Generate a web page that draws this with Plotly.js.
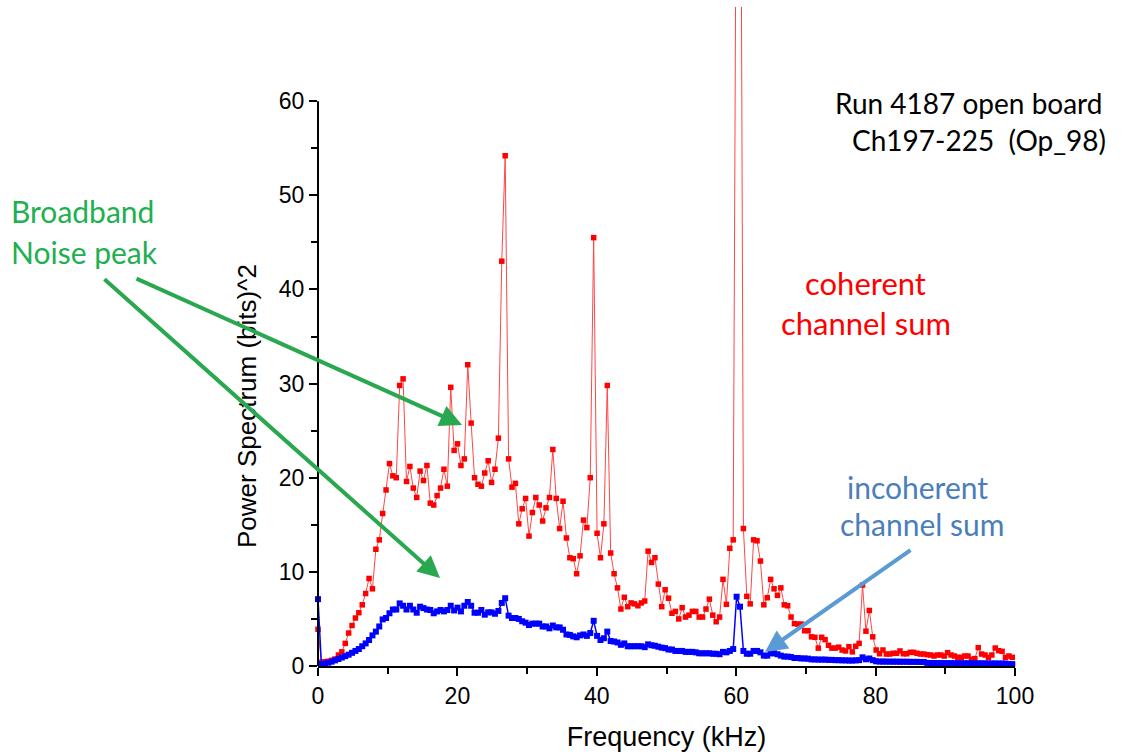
<!DOCTYPE html>
<html>
<head>
<meta charset="utf-8">
<script src="https://cdn.plot.ly/plotly-3.0.1.min.js"></script>
<style>html,body{margin:0;padding:0;background:#fff;}#chart{width:1138px;height:756px;}</style>
</head>
<body>
<div id="chart"></div>
<script>
// FFT bin width (kHz) of the spectrum
const BIN_KHZ = 0.48828;

// coherent channel sum, one value per frequency bin (bits)^2
const coherentSum = [
  3.9, 0.4, 0.45, 0.5, 0.6, 0.74, 1.17, 1.5, 2.4, 3.5,
  4.3, 5.1, 5.66, 6.5, 7.7, 9.3, 8.2, 12.4, 13.4, 16.2,
  18.7, 21.5, 20.2, 20.0, 29.8, 30.5, 19.6, 21.2, 18.9, 17.9,
  20.7, 19.7, 21.3, 17.3, 17.1, 18.1, 18.9, 20.9, 19.1, 29.6,
  22.9, 23.6, 21.3, 22.0, 32.0, 25.8, 20.0, 19.3, 19.1, 20.5,
  21.8, 19.5, 20.9, 24.2, 43.0, 54.2, 22.0, 19.0, 19.4, 15.1,
  16.7, 17.8, 13.8, 16.3, 17.9, 17.1, 15.4, 16.8, 17.9, 23.0,
  17.8, 14.6, 17.5, 13.6, 11.5, 11.4, 9.8, 11.7, 15.5, 14.7,
  20.0, 45.5, 14.1, 11.5, 15.1, 29.8, 12.0, 9.8, 8.3, 6.05,
  7.3, 6.3, 6.7, 6.6, 6.4, 6.7, 6.9, 12.2, 11.0, 11.5,
  8.7, 6.3, 8.1, 7.2, 5.6, 5.8, 5.0, 6.2, 5.2, 5.4,
  5.8, 5.8, 5.2, 5.2, 6.05, 7.1, 5.4, 4.7, 5.2, 9.2,
  6.55, 12.5, 13.4, 96, 112, 14.6, 7.4, 6.6, 13.4, 13.3,
  11.15, 6.5, 7.25, 9.2, 8.2, 7.5, 8.3, 6.5, 6.4, 5.2,
  4.5, 4.45, 4.45, 3.75, 3.75, 3.1, 3.05, 1.9, 3.05, 2.8,
  2.2, 1.9, 1.9, 2.0, 1.7, 1.6, 2.05, 1.5, 2.1, 2.4,
  8.6, 3.7, 5.9, 3.1, 1.7, 1.3, 1.7, 1.27, 1.27, 1.35,
  1.35, 1.6, 1.3, 1.3, 1.45, 1.45, 1.35, 1.27, 1.27, 1.2,
  1.17, 1.06, 1.17, 1.17, 1.06, 1.42, 1.17, 1.06, 0.92, 0.92,
  1.06, 1.06, 0.71, 0.78, 1.95, 1.27, 1.17, 0.92, 1.17, 1.91,
  1.63, 1.56, 0.92, 1.06, 0.92, 0.92
];

// incoherent channel sum, one value per frequency bin (bits)^2
const incoherentSum = [
  7.1, 0.2, 0.25, 0.35, 0.46, 0.6, 0.74, 0.9, 1.05, 1.2,
  1.4, 1.6, 1.8, 2.1, 2.4, 2.76, 3.25, 3.65, 4.2, 4.95,
  5.1, 5.6, 6.0, 6.0, 6.65, 6.4, 6.0, 6.4, 6.0, 5.66,
  6.3, 6.15, 6.0, 5.95, 5.6, 5.8, 5.95, 5.8, 5.95, 6.4,
  5.9, 6.2, 5.8, 6.4, 6.8, 6.4, 5.66, 5.66, 5.95, 5.45,
  5.7, 5.7, 5.55, 5.85, 6.7, 7.2, 5.35, 5.1, 5.1, 5.0,
  4.75, 4.6, 4.35, 4.5, 4.5, 4.5, 4.2, 4.2, 4.0, 4.3,
  4.1, 4.1, 3.85, 3.35, 3.3, 3.15, 3.05, 3.25, 3.35, 3.2,
  3.5, 4.8, 3.2, 2.76, 2.95, 3.65, 2.65, 2.6, 2.5, 2.25,
  2.4, 2.1, 2.1, 2.1, 2.1, 2.1, 2.0, 2.3, 2.2, 2.15,
  2.05, 1.95, 1.9, 1.75, 1.75, 1.6, 1.6, 1.6, 1.5, 1.5,
  1.5, 1.45, 1.35, 1.35, 1.35, 1.35, 1.3, 1.3, 1.25, 1.5,
  1.45, 1.6, 1.8, 7.36, 6.3, 1.6, 1.3, 1.3, 1.6, 1.6,
  1.45, 1.1, 1.1, 1.35, 1.35, 1.25, 1.1, 1.0, 1.0, 0.95,
  0.85, 0.85, 0.8, 0.8, 0.78, 0.7, 0.7, 0.68, 0.68, 0.68,
  0.65, 0.65, 0.62, 0.62, 0.6, 0.6, 0.58, 0.58, 0.6, 0.62,
  0.92, 0.71, 0.8, 0.62, 0.5, 0.47, 0.47, 0.47, 0.46, 0.46,
  0.46, 0.45, 0.45, 0.45, 0.44, 0.44, 0.44, 0.43, 0.43, 0.33,
  0.32, 0.32, 0.31, 0.31, 0.31, 0.3, 0.3, 0.3, 0.3, 0.29,
  0.29, 0.29, 0.29, 0.28, 0.28, 0.28, 0.28, 0.27, 0.27, 0.27,
  0.26, 0.26, 0.26, 0.2, 0.2, 0.2
];

const xTickVals = [0, 20, 40, 60, 80, 100];
const xMinorTickVals = [10, 30, 50, 70, 90];
const yTickVals = [0, 10, 20, 30, 40, 50, 60];
const yMinorTickVals = [5, 15, 25, 35, 45, 55];

const yAxisTitle = 'Power Spectrum (bits)^2';
const xAxisTitle = 'Frequency (kHz)';
const titleLines = ["Run 4187 open board", "Ch197-225\u00a0\u00a0(Op_98)"];
const coherentLabel = ["coherent", "channel sum"];
const incoherentLabel = ["incoherent", "channel sum"];
const noiseLabel = ["Broadband", "Noise peak"];

const freqCoh = coherentSum.map((_, i) => i * BIN_KHZ);
const freqInc = incoherentSum.map((_, i) => i * BIN_KHZ);

const traces = [
  {
    x: freqCoh, y: coherentSum, type: 'scatter', mode: 'lines+markers',
    name: 'coherent channel sum', cliponaxis: false,
    line: {color: 'rgb(255,70,70)', width: 1},
    marker: {symbol: 'square', size: 5.5, color: 'rgb(255,0,0)'}
  },
  {
    x: freqInc, y: incoherentSum, type: 'scatter', mode: 'lines+markers',
    name: 'incoherent channel sum', cliponaxis: false,
    line: {color: 'rgb(0,0,255)', width: 1.5},
    marker: {symbol: 'square', size: 6, color: 'rgb(0,0,255)'}
  }
];

const TXT = 'Lato, "Open Sans", sans-serif';
const AX = '"Liberation Sans", Arial, sans-serif';

function txt(text, x, y, color, size, xanchor) {
  return {text: text, xref: 'paper', yref: 'paper', x: x, y: y,
    xanchor: xanchor || 'center', yanchor: 'middle', showarrow: false,
    font: {family: TXT, size: size, color: color}};
}
function arrow(x, y, ax, ay, color) {
  return {text: '', xref: 'paper', yref: 'paper', x: x, y: y, ax: ax, ay: ay,
    showarrow: true, arrowhead: 2, arrowsize: 1.1, arrowwidth: 4,
    arrowcolor: color, standoff: 0, startstandoff: 0};
}

const layout = {
  width: 1138, height: 756,
  margin: {l: 318, r: 123, t: 7, b: 90},
  paper_bgcolor: '#ffffff', plot_bgcolor: '#ffffff',
  showlegend: false,
  xaxis: {
    range: [0, 100], tickvals: xTickVals, ticks: 'outside', ticklen: 8, tickwidth: 2,
    tickcolor: '#000', showline: true, linewidth: 2, linecolor: '#000',
    showgrid: false, zeroline: false,
    minor: {tickvals: xMinorTickVals, ticks: 'outside', ticklen: 6, tickwidth: 2, tickcolor: '#000'},
    tickfont: {family: AX, size: 23, color: '#000'},
    title: {text: xAxisTitle, font: {family: AX, size: 27, color: '#000'}, standoff: 20}
  },
  yaxis: {
    range: [0, 70], tickvals: yTickVals, ticks: 'outside', ticklen: 8, tickwidth: 2,
    tickcolor: '#000', showline: false, showgrid: false, zeroline: false,
    minor: {tickvals: yMinorTickVals, ticks: 'outside', ticklen: 6, tickwidth: 2, tickcolor: '#000'},
    tickfont: {family: AX, size: 23, color: '#000'},
    title: {text: ''}
  },
  shapes: [
    {type: 'line', xref: 'paper', yref: 'y', x0: 0, x1: 0, y0: 0, y1: 60,
     line: {color: '#000', width: 2}}
  ],
  annotations: [
    {text: yAxisTitle, xref: 'paper', yref: 'paper', x: -0.1019, y: 0.3945,
     xanchor: 'center', yanchor: 'middle', textangle: -90, showarrow: false,
     font: {family: AX, size: 26, color: '#000'}},
    txt(titleLines[0], 0.9326, 0.8543, '#000', 28),
    txt(titleLines[1], 0.9484, 0.7982, '#000', 28),
    txt(coherentLabel[0], 0.7848, 0.5812, 'rgb(255,0,0)', 31),
    txt(coherentLabel[1], 0.7862, 0.5205, 'rgb(255,0,0)', 31),
    txt(incoherentLabel[0], 0.8608, 0.2716, 'rgb(74,126,187)', 30),
    txt(incoherentLabel[1], 0.8666, 0.2155, 'rgb(74,126,187)', 30),
    txt(noiseLabel[0], -0.4430, 0.6904, 'rgb(32,176,80)', 30, 'left'),
    txt(noiseLabel[1], -0.4430, 0.6282, 'rgb(32,176,80)', 30, 'left'),
    arrow(0.2066, 0.3657, -327, -147, 'rgb(42,168,79)'),
    arrow(0.1750, 0.1335, -337, -300, 'rgb(42,168,79)'),
    arrow(0.6413, 0.0212, 147, -103, 'rgb(91,155,213)')
  ]
};

Plotly.newPlot('chart', traces, layout, {displayModeBar: false, staticPlot: true});
</script>
</body>
</html>
